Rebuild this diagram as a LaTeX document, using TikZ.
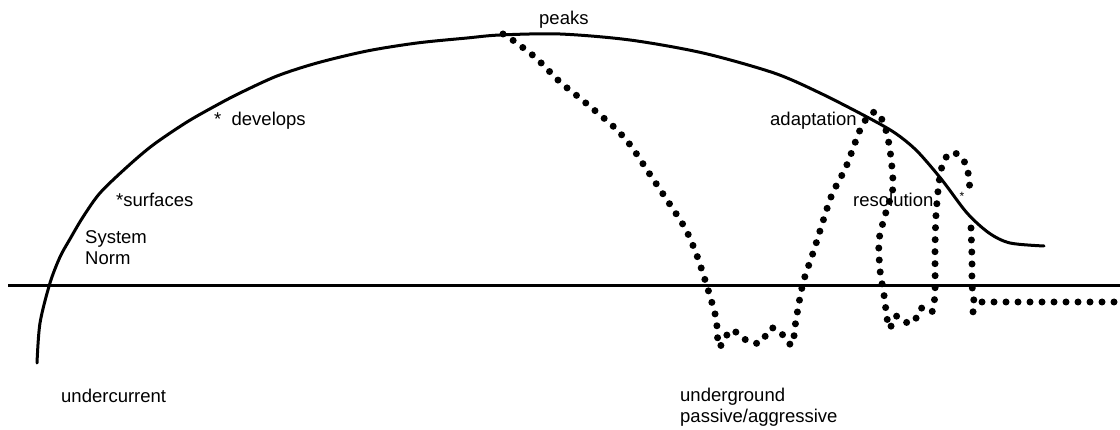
\documentclass[tikz,border=0pt]{standalone}
\usepackage{fontspec}
\setmainfont{Liberation Sans}
\begin{document}
\begin{tikzpicture}[x=1pt,y=-1pt,
  solidline/.style={line width=3pt, line cap=round, line join=round},
  dotline/.style={line width=7pt, line cap=round, dash pattern=on 0pt off 12pt},
  lbl/.style={inner sep=0pt, anchor=west, font=\fontsize{18.5}{21}\selectfont, align=left}]
\useasboundingbox (0,0) rectangle (1120,430);
% baseline
\draw[solidline, line cap=butt] (8,286) -- (1120,286);
% main solid curve
\draw[solidline] plot[smooth, tension=0.5] coordinates {
  (37,363) (40,323) (50,283) (60,257) (70,239) (83,217) (100,193) (127,167)
  (153,145) (187,122) (217,105) (240,93) (277,76) (317,63) (367,51) (417,43)
  (467,38) (500,35) (560,34) (630,40)
  (703,53) (774,73) (820,93) (867,117) (895,133) (917,151) (942,180) (967,213)
  (989,233) (1010,243) (1044,246)};
% dotted path
\draw[dotline] plot[smooth, tension=0.45] coordinates {
  (503,34) (514,41) (536,58) (560,82) (581,99) (614,127) (631,146) (649,173)
  (667,200) (685,228) (696,253) (706,283) (716,318) (719,347) (731,330)
  (746,340) (760,343) (771,328) (781,333) (792,345) (796,320) (803,283)
  (814,250) (831,197) (846,167) (860,130) (870,114) (878,113) (885,127)
  (890,150) (893,187) (886,212) (879,240) (880,270) (884,295) (889,328)
  (896,316) (905,322) (914,322) (921,308) (932,312) (935,292) (935,250)
  (936,215) (939,182) (943,163) (950,153) (959,155) (967,167) (970,190)};
\draw[dotline] plot[smooth, tension=0.45] coordinates {
  (971,228) (972,260) (972,285) (974,303) (972,318)};
\draw[dotline] (982,302) -- (1120,302);
% labels
\node[lbl] (peaks) at (539,20) {peaks};
\node[lbl] (develops) at (214,121) {*~~develops};
\node[lbl] (surfaces) at (116,200) {*surfaces};
\node[lbl] (system) at (85,248) {System\\Norm};
\node[lbl] (undercurrent) at (61,396) {undercurrent};
\node[lbl] (adaptation) at (770,121) {adaptation};
\node[lbl] (resolution) at (853,200) {resolution};
\node[inner sep=0pt, font=\fontsize{12}{12}\selectfont] (resstar) at (962,196) {*};
\node[lbl] (underground) at (680,407) {underground\\passive/aggressive};
\end{tikzpicture}
\end{document}
